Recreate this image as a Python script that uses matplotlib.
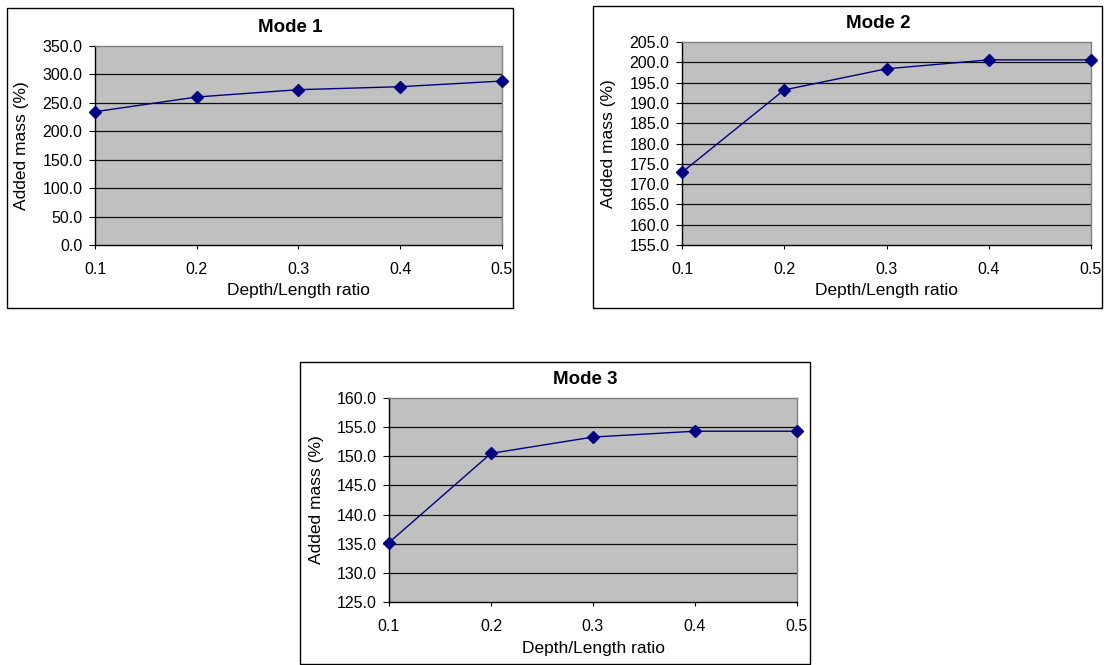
import matplotlib
matplotlib.use("Agg")
import matplotlib.pyplot as plt
import matplotlib.patches as patches
import numpy as np

plt.rcParams['font.family'] = ['Liberation Sans', 'DejaVu Sans']

W, H = 1106, 665

# data
ratio = [0.1, 0.2, 0.3, 0.4, 0.5]
mode1 = [234.4, 260.3, 273.2, 278.4, 288.4]
mode2 = [172.9, 193.2, 198.4, 200.6, 200.6]
mode3 = [135.2, 150.5, 153.3, 154.3, 154.3]
titles = ["Mode 1", "Mode 2", "Mode 3"]
y_ranges = [(0, 350, 50), (155, 205, 5), (125, 160, 5)]

# pixel layout: (box left, top, right, bottom), (plot left, top, right, bottom)
layout = [
    ((7, 8, 513, 308), (95, 46, 502, 245)),
    ((593, 6, 1102, 308), (682, 42, 1091, 245)),
    ((300, 362, 810, 664), (389, 398, 797, 602)),
]

fig = plt.figure(figsize=(W / 100, H / 100), dpi=100)
fig.patch.set_facecolor('white')


def fx(px):
    return px / W


def fy(py):
    return 1 - py / H


for i, values in enumerate([mode1, mode2, mode3]):
    box, plot = layout[i]
    bl, bt, br, bb = box
    fig.patches.append(patches.Rectangle((fx(bl), fy(bb)), fx(br) - fx(bl), fy(bt) - fy(bb),
                                         transform=fig.transFigure, fill=False,
                                         edgecolor='black', linewidth=1.0))
    pl, pt, pr, pb = plot
    ax = fig.add_axes([fx(pl), fy(pb), fx(pr) - fx(pl), fy(pt) - fy(pb)])
    ax.set_facecolor('#c0c0c0')
    lo, hi, step = y_ranges[i]
    yt = np.arange(lo, hi + step / 2, step)
    ax.set_ylim(lo, hi)
    ax.set_xlim(0.1, 0.5)
    ax.set_yticks(yt)
    ax.set_yticklabels(["%.1f" % v for v in yt])
    ax.set_xticks(ratio)
    ax.set_xticklabels(["%.1f" % v for v in ratio])
    for v in yt[1:-1]:
        ax.axhline(v, color='#101010', linewidth=0.9, zorder=1)
    ax.plot(ratio, values, color='#000080', linewidth=1.0, marker='D',
            markersize=6, markerfacecolor='#000080', markeredgecolor='#000080',
            zorder=3, clip_on=False)
    for s in ['top', 'right']:
        ax.spines[s].set_color('#808080')
        ax.spines[s].set_linewidth(1.0)
    for s in ['left', 'bottom']:
        ax.spines[s].set_color('black')
        ax.spines[s].set_linewidth(1.0)
    ax.tick_params(axis='y', direction='out', length=4, width=0.8, labelsize=11.5, pad=5)
    ax.tick_params(axis='x', direction='out', length=3, width=0.8, labelsize=11.5, pad=9)
    ax.set_ylabel("Added mass (%)", fontsize=12.5)
    ax.set_xlabel("Depth/Length ratio", fontsize=12.5)
    ax.yaxis.set_label_coords(-73 / (pr - pl), 0.5)
    ax.xaxis.set_label_coords(0.5, -46 / (pb - pt))
    ax.yaxis.label.set_va('center')
    ax.xaxis.label.set_va('center')
    fig.text(fx((pl + pr) / 2 - 8), fy(pt - 19), titles[i], ha='center', va='center',
             fontsize=13.5, fontweight='bold')

fig.savefig("out.png", dpi=100)
